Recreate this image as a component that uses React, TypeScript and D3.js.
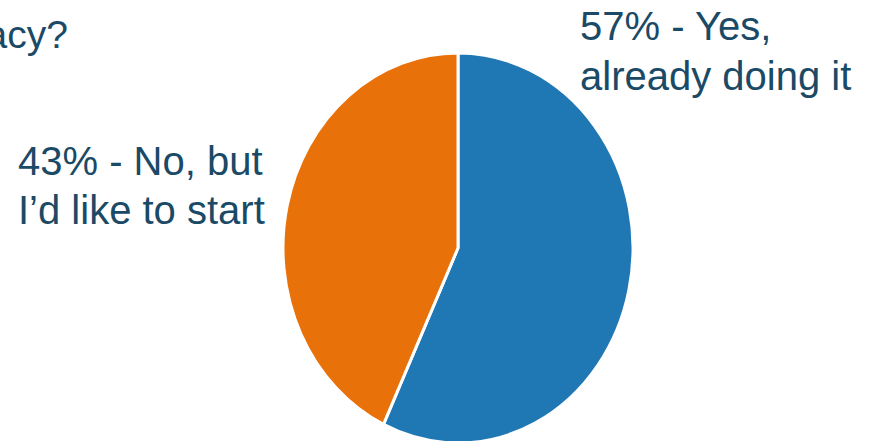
import React from "react";
import * as d3 from "d3";

const categories = ["Yes, already doing it", "No, but I'd like to start"];
const values = [57, 43];
const colors = ["#1f77b4", "#e8710a"];
const labelLines = [
  ["57% - Yes,", "already doing it"],
  ["43% - No, but", "I\u2019d like to start"],
];
const titleFragment = "acy?";

export default function App() {
  const W = 871;
  const H = 441;
  const cx = 458;
  const cy = 248;
  const rx = 175;
  const ry = 195;

  const pie = d3.pie<number>().sort(null).value((d) => d);
  const arcs = pie(values);
  const arc = d3.arc<d3.PieArcDatum<number>>().innerRadius(0).outerRadius(rx);

  const textColor = "#1a4a66";
  const font = "'Liberation Sans', Arial, sans-serif";

  return (
    <svg
      width={W}
      height={H}
      style={{ position: "absolute", left: 0, top: 0, background: "#fff" }}
    >
      <text x={68} y={48} textAnchor="end" fontSize={39} fontFamily={font} fill={textColor}>
        {titleFragment}
      </text>
      <g transform={`translate(${cx},${cy}) scale(1,${ry / rx})`}>
        {arcs.map((a, i) => (
          <path
            key={categories[i]}
            d={arc(a) || ""}
            fill={colors[i]}
            stroke="#fff"
            strokeWidth={3}
            vectorEffect="non-scaling-stroke"
            strokeLinejoin="round"
          />
        ))}
      </g>
      <text fontSize={40} fontFamily={font} fill={textColor}>
        <tspan x={580} y={40}>{labelLines[0][0]}</tspan>
        <tspan x={580} y={90}>{labelLines[0][1]}</tspan>
      </text>
      <text fontSize={40} fontFamily={font} fill={textColor}>
        <tspan x={18} y={175}>{labelLines[1][0]}</tspan>
        <tspan x={18} y={224}>{labelLines[1][1]}</tspan>
      </text>
    </svg>
  );
}
